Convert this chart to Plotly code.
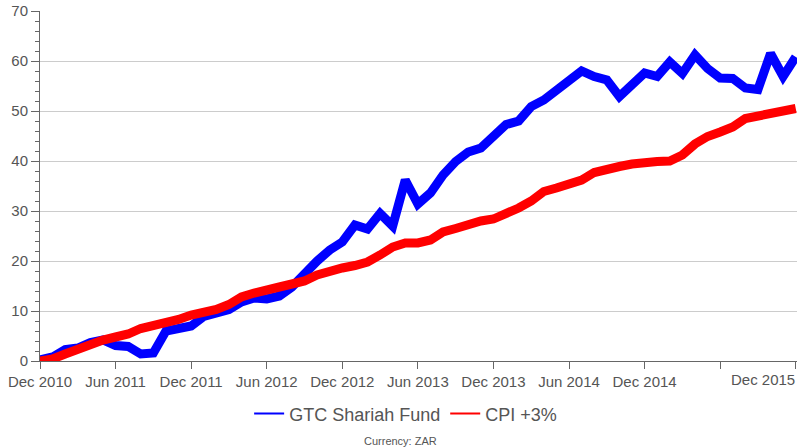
import plotly.graph_objects as go

# Monthly categories Dec 2010 .. Dec 2015
month_names = ["Jan", "Feb", "Mar", "Apr", "May", "Jun", "Jul", "Aug", "Sep", "Oct", "Nov", "Dec"]
months = ["Dec 2010"] + [f"{m} {y}" for y in range(2011, 2016) for m in month_names]

fund_name = "GTC Shariah Fund"
cpi_name = "CPI +3%"

gtc_fund = [
    0.2, 0.8, 2.3, 2.6, 3.7, 4.2, 3.1, 2.9, 1.4, 1.6,
    6.0, 6.5, 7.0, 8.9, 9.6, 10.3, 11.8, 12.6, 12.4, 13.0,
    14.8, 17.5, 20.0, 22.2, 23.8, 27.2, 26.4, 29.5, 27.0, 36.2,
    31.4, 33.6, 37.2, 39.9, 41.8, 42.6, 45.2, 47.3, 48.0, 50.9,
    52.2, 54.2, 55.8, 58.0, 56.9, 56.2, 52.9, 55.2, 57.6, 56.9,
    59.8, 57.5, 61.2, 58.5, 56.6, 56.5, 54.6, 54.3, 61.5, 56.9,
    60.8,
]

cpi_plus3 = [
    0.0, 0.4, 1.4, 2.4, 3.4, 4.2, 4.8, 5.4, 6.5, 7.0,
    7.6, 8.3, 9.2, 9.6, 10.3, 11.3, 12.8, 13.6, 14.0, 14.8,
    15.4, 16.0, 17.2, 18.0, 18.6, 19.1, 19.8, 21.2, 22.8, 23.6,
    23.6, 24.2, 25.8, 26.5, 27.4, 28.0, 28.4, 29.3, 30.6, 32.0,
    33.9, 34.6, 35.5, 36.2, 37.7, 38.5, 38.9, 39.4, 39.8, 39.9,
    40.0, 41.2, 43.4, 44.9, 45.8, 46.8, 48.5, 49.0, 49.4, 50.0,
    50.5,
]

tick_months = months[::6]
tick_labels = [m for m in tick_months]
tick_labels[-2] = ""   # Jun 2015 hidden (overlap)
tick_labels[-1] = ""   # Dec 2015 drawn justified as annotation
last_label = months[-1]

y_ticks = [0, 10, 20, 30, 40, 50, 60, 70]
currency_note = "Currency: ZAR"

FONT = "Liberation Sans, Arial, sans-serif"
GREY = "#555555"
BLUE = "#0000ff"
RED = "#ff0000"

fig = go.Figure()
fig.add_trace(go.Scatter(x=months, y=gtc_fund, mode="lines", name=fund_name,
                         showlegend=False, legendgroup="f",
                         line=dict(color=BLUE, width=9)))
fig.add_trace(go.Scatter(x=months, y=cpi_plus3, mode="lines", name=cpi_name,
                         showlegend=False, legendgroup="c",
                         line=dict(color=RED, width=9)))
# legend entries with thin sample lines
fig.add_trace(go.Scatter(x=[None], y=[None], mode="lines", name=fund_name,
                         legendgroup="f", line=dict(color=BLUE, width=2)))
fig.add_trace(go.Scatter(x=[None], y=[None], mode="lines", name=cpi_name,
                         legendgroup="c", line=dict(color=RED, width=2)))

fig.update_layout(
    width=800, height=447,
    margin=dict(l=40, r=3, t=11, b=86, autoexpand=False),
    paper_bgcolor="white", plot_bgcolor="white",
    font=dict(family=FONT, color=GREY),
    showlegend=True,
    legend=dict(orientation="h", x=0.483, xanchor="center", y=-0.151, yanchor="middle",
                font=dict(size=18, color=GREY), itemwidth=30),
    xaxis=dict(
        type="category", range=[0, 60.1],
        tickmode="array", tickvals=tick_months, ticktext=tick_labels,
        showgrid=False, zeroline=False,
        showline=True, linecolor="#666666", linewidth=1,
        ticks="outside", ticklen=7, tickcolor="#666666",
        tickfont=dict(size=15, color=GREY),
    ),
    yaxis=dict(
        range=[0, 70], tickmode="array", tickvals=y_ticks,
        showgrid=True, gridcolor="#cccccc", gridwidth=1,
        zeroline=False,
        showline=True, linecolor="#666666", linewidth=1,
        ticks="outside", ticklen=8, tickcolor="#666666",
        tickfont=dict(size=15, color=GREY),
        minor=dict(dtick=2, ticks="outside", ticklen=4, tickcolor="#666666", showgrid=False),
    ),
    annotations=[
        dict(text=last_label, xref="paper", yref="paper", x=1.0, y=0, xanchor="right",
             yanchor="top", yshift=-8, showarrow=False,
             font=dict(size=15, color=GREY, family=FONT)),
        dict(text=currency_note, xref="paper", yref="paper", x=0.476, y=-0.229,
             xanchor="center", yanchor="middle", showarrow=False,
             font=dict(size=11, color=GREY, family=FONT)),
    ],
)

fig.write_html("out.html", config={"displayModeBar": False},
               post_script="document.body.style.margin='0';document.body.style.padding='0';")
